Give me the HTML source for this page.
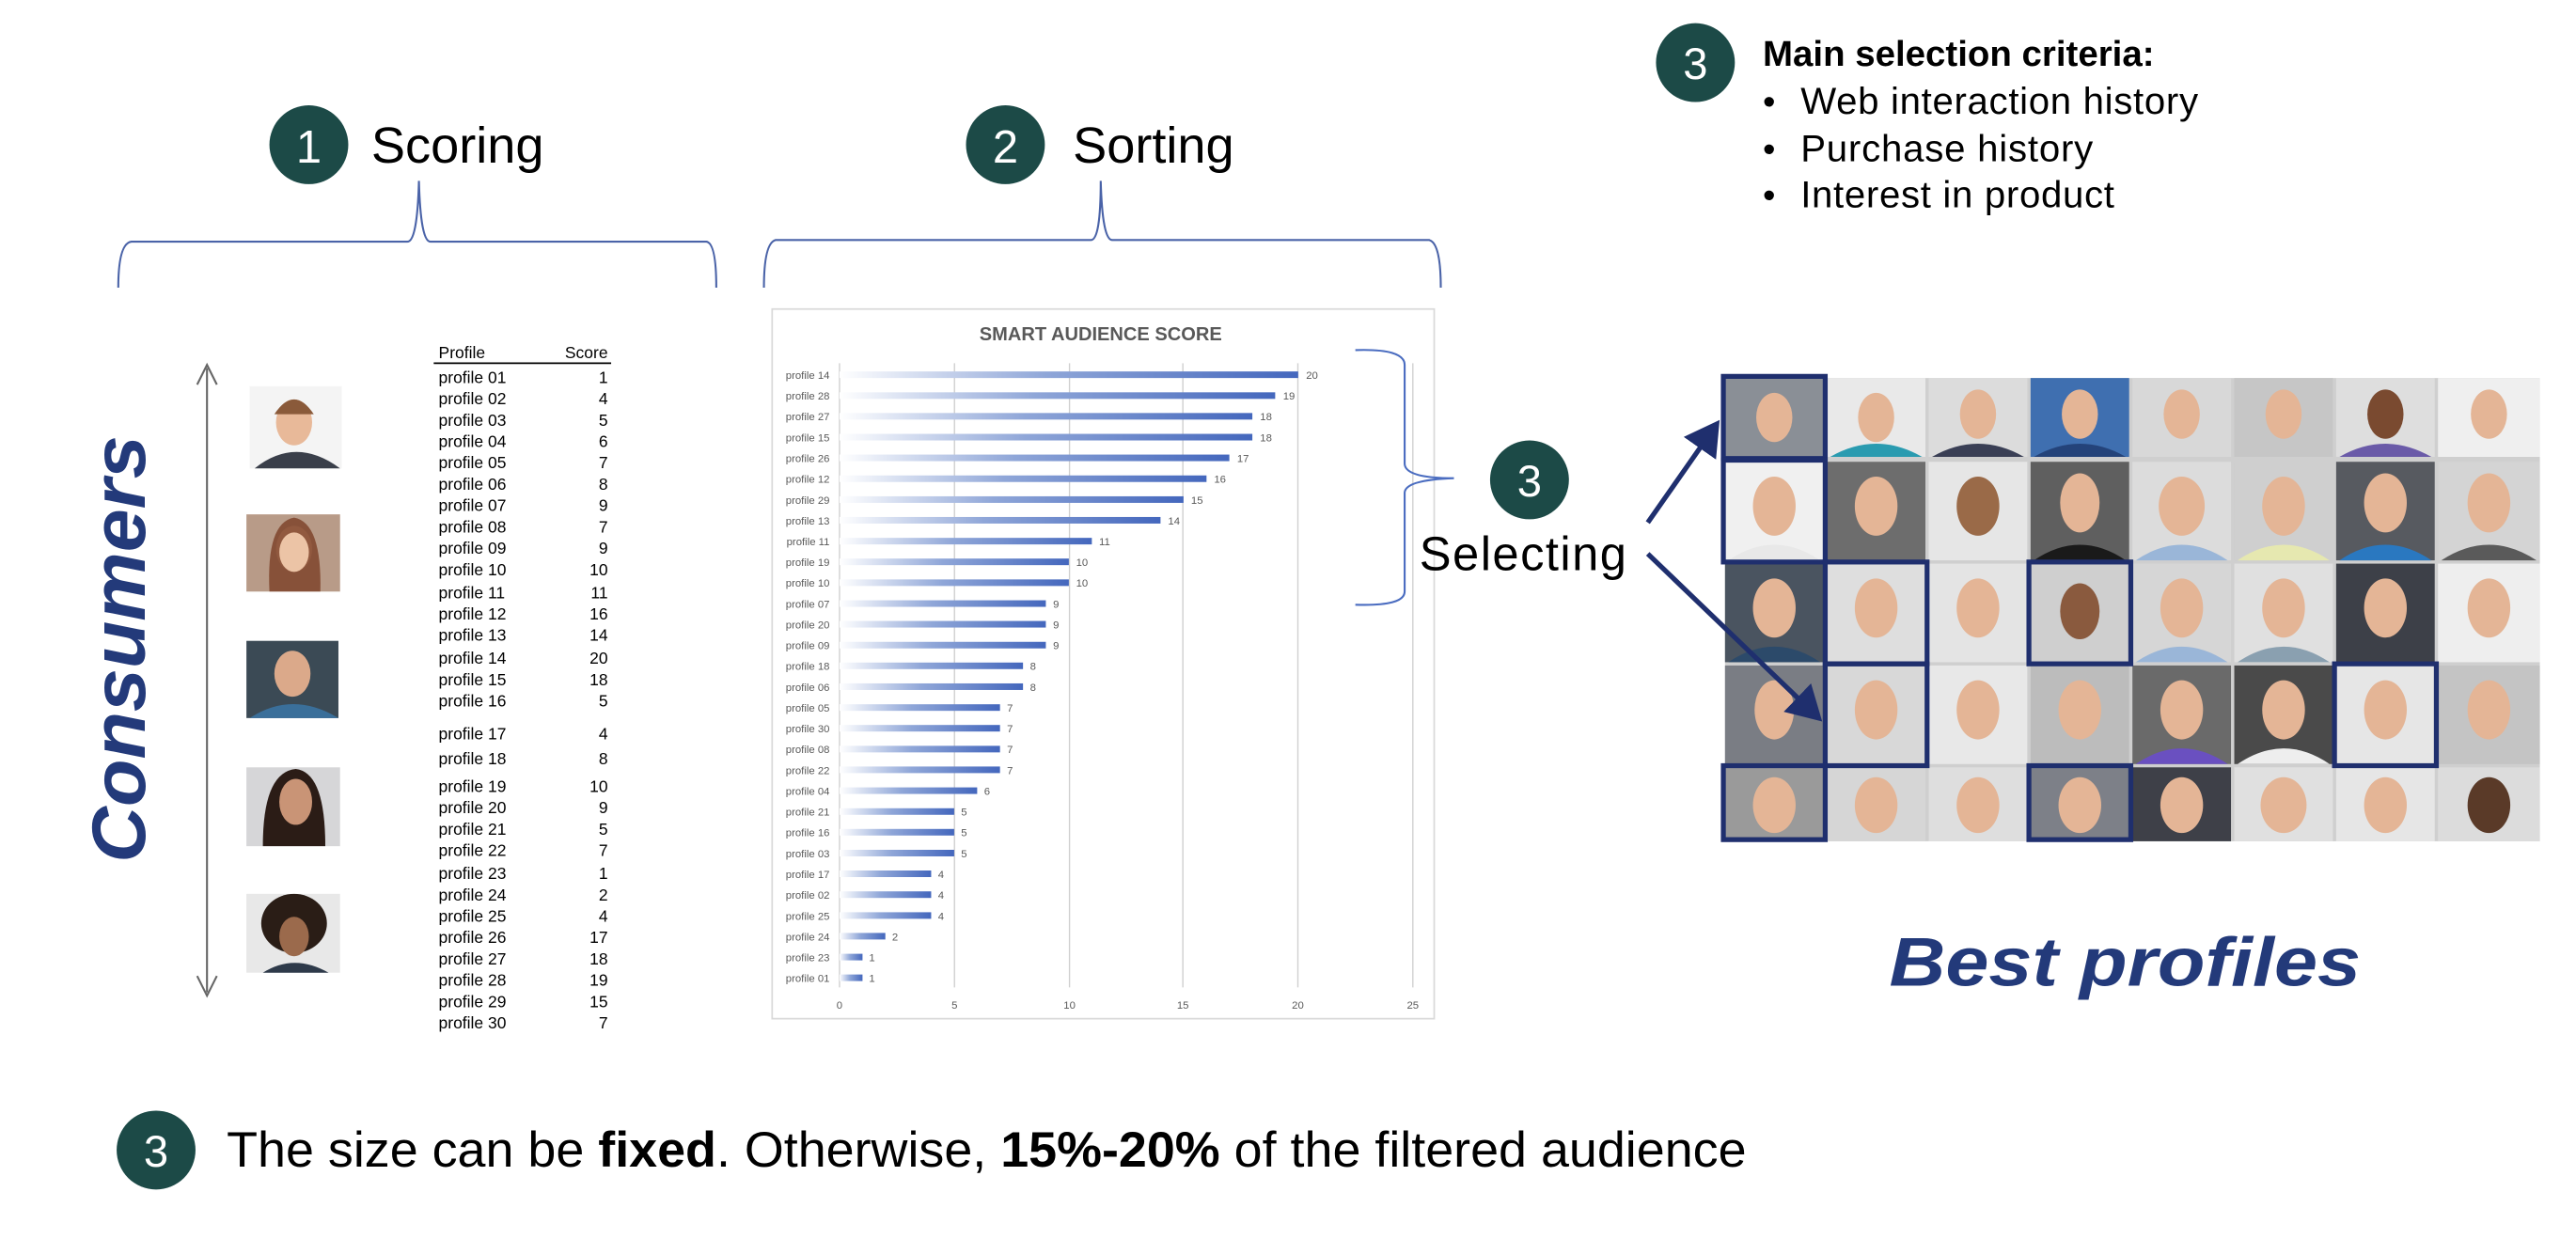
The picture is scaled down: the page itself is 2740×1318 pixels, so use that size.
<!DOCTYPE html>
<html><head><meta charset="utf-8"><style>
html,body{margin:0;padding:0;background:#fff;}
svg{display:block;font-family:"Liberation Sans",sans-serif;}
</style></head><body>
<svg width="2740" height="1318" viewBox="0 0 1568 754" xmlns="http://www.w3.org/2000/svg">
<defs>
<linearGradient id="bg" x1="0" x2="1" y1="0" y2="0"><stop offset="0" stop-color="#ffffff"/><stop offset="0.45" stop-color="#8fa6d8"/><stop offset="1" stop-color="#4467bd"/></linearGradient>
<marker id="ah" markerWidth="8" markerHeight="8" refX="6" refY="4" orient="auto"><path d="M0,0 L7,4 L0,8 Z" fill="#1f2f6e"/></marker>
</defs>
<rect width="1568" height="754" fill="#fff"/>

<circle cx="188" cy="88" r="24" fill="#1c4a47"/><text x="188" y="99" fill="#fff" font-size="28" text-anchor="middle">1</text>
<text x="226" y="99" font-size="31" fill="#000">Scoring</text>
<circle cx="612" cy="88" r="24" fill="#1c4a47"/><text x="612" y="99" fill="#fff" font-size="28" text-anchor="middle">2</text>
<text x="653" y="99" font-size="31" fill="#000">Sorting</text>
<circle cx="1032" cy="38" r="24" fill="#1c4a47"/><text x="1032" y="48" fill="#fff" font-size="27" text-anchor="middle">3</text>
<text x="1073" y="40" font-size="22" font-weight="bold" fill="#000">Main selection criteria:</text>
<text x="1073" y="69" font-size="22" fill="#000">•</text><text x="1096" y="69" font-size="23" fill="#000" textLength="242">Web interaction history</text>
<text x="1073" y="98" font-size="22" fill="#000">•</text><text x="1096" y="98" font-size="23" fill="#000" textLength="178">Purchase history</text>
<text x="1073" y="126" font-size="22" fill="#000">•</text><text x="1096" y="126" font-size="23" fill="#000" textLength="191">Interest in product</text>

<path d="M72,175 Q72,148 80,147 L248,147 Q254,147 255,110 Q256,147 262,147 L430,147 Q436,148 436,175" fill="none" stroke="#4a63a8" stroke-width="1.2"/>
<path d="M465,175 Q465,148 472,146 L664,146 Q670,146 670,110 Q671,146 677,146 L870,146 Q877,148 877,175" fill="none" stroke="#4a63a8" stroke-width="1.2"/>

<text transform="translate(88,395) rotate(-90)" font-size="46" font-weight="bold" font-style="italic" fill="#233a7a" text-anchor="middle" textLength="260" lengthAdjust="spacingAndGlyphs">Consumers</text>
<line x1="126" y1="224" x2="126" y2="604" stroke="#666" stroke-width="1.2"/>
<path d="M120,234 L126,222 L132,234 M120,594 L126,606 L132,594" fill="none" stroke="#666" stroke-width="1.2"/>

<g>
<rect x="152" y="235" width="56" height="50" fill="#f4f4f4"/><path d="M155,285 Q180,265 207,285Z" fill="#3a3f4a"/><ellipse cx="179" cy="257" rx="11" ry="14" fill="#e8b999"/><path d="M167,252 Q179,234 191,252 Z" fill="#8a5a3a"/>
<rect x="150" y="313" width="57" height="47" fill="#b89b88"/><ellipse cx="179" cy="334" rx="11" ry="14" fill="#e9c1a3"/><path d="M164,360 Q162,318 179,315 Q196,318 195,360Z" fill="#7a3f25" opacity="0.8"/><ellipse cx="179" cy="336" rx="9" ry="12" fill="#ecc4a6"/>
<rect x="150" y="390" width="56" height="47" fill="#3b4a55"/><path d="M152,437 Q178,420 206,437Z" fill="#3a6f9a"/><ellipse cx="178" cy="410" rx="11" ry="14" fill="#dba98a"/>
<rect x="150" y="467" width="57" height="48" fill="#d6d6d8"/><path d="M160,515 Q160,470 180,468 Q198,470 198,515Z" fill="#2b1c16"/><ellipse cx="180" cy="488" rx="10" ry="14" fill="#c99476"/>
<rect x="150" y="544" width="57" height="48" fill="#e8e8e8"/><ellipse cx="179" cy="562" rx="20" ry="18" fill="#2a1d16"/><ellipse cx="179" cy="570" rx="9" ry="12" fill="#9b6a4c"/><path d="M160,592 Q179,580 200,592Z" fill="#2e3a4a"/>
</g>

<g font-size="10" fill="#000">
<text x="267" y="218">Profile</text><text x="370" y="218" text-anchor="end">Score</text>
<line x1="264" y1="221" x2="372" y2="221" stroke="#000" stroke-width="1"/>
<text x="267" y="233">profile 01</text><text x="370" y="233" text-anchor="end">1</text>
<text x="267" y="246">profile 02</text><text x="370" y="246" text-anchor="end">4</text>
<text x="267" y="259">profile 03</text><text x="370" y="259" text-anchor="end">5</text>
<text x="267" y="272">profile 04</text><text x="370" y="272" text-anchor="end">6</text>
<text x="267" y="285">profile 05</text><text x="370" y="285" text-anchor="end">7</text>
<text x="267" y="298">profile 06</text><text x="370" y="298" text-anchor="end">8</text>
<text x="267" y="311">profile 07</text><text x="370" y="311" text-anchor="end">9</text>
<text x="267" y="324">profile 08</text><text x="370" y="324" text-anchor="end">7</text>
<text x="267" y="337">profile 09</text><text x="370" y="337" text-anchor="end">9</text>
<text x="267" y="350">profile 10</text><text x="370" y="350" text-anchor="end">10</text>
<text x="267" y="364">profile 11</text><text x="370" y="364" text-anchor="end">11</text>
<text x="267" y="377">profile 12</text><text x="370" y="377" text-anchor="end">16</text>
<text x="267" y="390">profile 13</text><text x="370" y="390" text-anchor="end">14</text>
<text x="267" y="404">profile 14</text><text x="370" y="404" text-anchor="end">20</text>
<text x="267" y="417">profile 15</text><text x="370" y="417" text-anchor="end">18</text>
<text x="267" y="430">profile 16</text><text x="370" y="430" text-anchor="end">5</text>
<text x="267" y="450">profile 17</text><text x="370" y="450" text-anchor="end">4</text>
<text x="267" y="465">profile 18</text><text x="370" y="465" text-anchor="end">8</text>
<text x="267" y="482">profile 19</text><text x="370" y="482" text-anchor="end">10</text>
<text x="267" y="495">profile 20</text><text x="370" y="495" text-anchor="end">9</text>
<text x="267" y="508">profile 21</text><text x="370" y="508" text-anchor="end">5</text>
<text x="267" y="521">profile 22</text><text x="370" y="521" text-anchor="end">7</text>
<text x="267" y="535">profile 23</text><text x="370" y="535" text-anchor="end">1</text>
<text x="267" y="548">profile 24</text><text x="370" y="548" text-anchor="end">2</text>
<text x="267" y="561">profile 25</text><text x="370" y="561" text-anchor="end">4</text>
<text x="267" y="574">profile 26</text><text x="370" y="574" text-anchor="end">17</text>
<text x="267" y="587">profile 27</text><text x="370" y="587" text-anchor="end">18</text>
<text x="267" y="600">profile 28</text><text x="370" y="600" text-anchor="end">19</text>
<text x="267" y="613">profile 29</text><text x="370" y="613" text-anchor="end">15</text>
<text x="267" y="626">profile 30</text><text x="370" y="626" text-anchor="end">7</text>
</g>

<rect x="470" y="188" width="403" height="432" fill="#fff" stroke="#d9d9d9" stroke-width="1"/>
<text x="670" y="207" font-size="11.5" font-weight="bold" fill="#595959" text-anchor="middle">SMART AUDIENCE SCORE</text>
<g stroke="#d0d0d0" stroke-width="0.8">
<line x1="511" y1="221" x2="511" y2="601"/><line x1="581" y1="221" x2="581" y2="601"/><line x1="651" y1="221" x2="651" y2="601"/><line x1="720" y1="221" x2="720" y2="601"/><line x1="790" y1="221" x2="790" y2="601"/><line x1="860" y1="221" x2="860" y2="601"/>
</g>
<g font-size="6.5" fill="#595959" text-anchor="middle">
<text x="511" y="614">0</text><text x="581" y="614">5</text><text x="651" y="614">10</text><text x="720" y="614">15</text><text x="790" y="614">20</text><text x="860" y="614">25</text>
</g>
<g fill="url(#bg)">
<rect x="511" y="226" width="279.2" height="4"/><rect x="511" y="238.7" width="265.2" height="4"/><rect x="511" y="251.3" width="251.3" height="4"/><rect x="511" y="264" width="251.3" height="4"/><rect x="511" y="276.6" width="237.3" height="4"/><rect x="511" y="289.3" width="223.4" height="4"/><rect x="511" y="302" width="209.4" height="4"/><rect x="511" y="314.6" width="195.4" height="4"/><rect x="511" y="327.3" width="153.6" height="4"/><rect x="511" y="339.9" width="139.6" height="4"/><rect x="511" y="352.6" width="139.6" height="4"/><rect x="511" y="365.3" width="125.6" height="4"/><rect x="511" y="377.9" width="125.6" height="4"/><rect x="511" y="390.6" width="125.6" height="4"/><rect x="511" y="403.2" width="111.7" height="4"/><rect x="511" y="415.9" width="111.7" height="4"/><rect x="511" y="428.6" width="97.7" height="4"/><rect x="511" y="441.2" width="97.7" height="4"/><rect x="511" y="453.9" width="97.7" height="4"/><rect x="511" y="466.5" width="97.7" height="4"/><rect x="511" y="479.2" width="83.8" height="4"/><rect x="511" y="491.9" width="69.8" height="4"/><rect x="511" y="504.5" width="69.8" height="4"/><rect x="511" y="517.2" width="69.8" height="4"/><rect x="511" y="529.8" width="55.8" height="4"/><rect x="511" y="542.5" width="55.8" height="4"/><rect x="511" y="555.2" width="55.8" height="4"/><rect x="511" y="567.8" width="27.9" height="4"/><rect x="511" y="580.5" width="14" height="4"/><rect x="511" y="593.1" width="14" height="4"/>
</g>
<g font-size="6.5" fill="#595959">
<g text-anchor="end">
<text x="505" y="230.5">profile 14</text><text x="505" y="243.2">profile 28</text><text x="505" y="255.8">profile 27</text><text x="505" y="268.5">profile 15</text><text x="505" y="281.1">profile 26</text><text x="505" y="293.8">profile 12</text><text x="505" y="306.5">profile 29</text><text x="505" y="319.1">profile 13</text><text x="505" y="331.8">profile 11</text><text x="505" y="344.4">profile 19</text><text x="505" y="357.1">profile 10</text><text x="505" y="369.8">profile 07</text><text x="505" y="382.4">profile 20</text><text x="505" y="395.1">profile 09</text><text x="505" y="407.7">profile 18</text><text x="505" y="420.4">profile 06</text><text x="505" y="433.1">profile 05</text><text x="505" y="445.7">profile 30</text><text x="505" y="458.4">profile 08</text><text x="505" y="471">profile 22</text><text x="505" y="483.7">profile 04</text><text x="505" y="496.4">profile 21</text><text x="505" y="509">profile 16</text><text x="505" y="521.7">profile 03</text><text x="505" y="534.3">profile 17</text><text x="505" y="547">profile 02</text><text x="505" y="559.7">profile 25</text><text x="505" y="572.3">profile 24</text><text x="505" y="585">profile 23</text><text x="505" y="597.6">profile 01</text>
</g>
<text x="795" y="230.5">20</text><text x="781" y="243.2">19</text><text x="767" y="255.8">18</text><text x="767" y="268.5">18</text><text x="753" y="281.1">17</text><text x="739" y="293.8">16</text><text x="725" y="306.5">15</text><text x="711" y="319.1">14</text><text x="669" y="331.8">11</text><text x="655" y="344.4">10</text><text x="655" y="357.1">10</text><text x="641" y="369.8">9</text><text x="641" y="382.4">9</text><text x="641" y="395.1">9</text><text x="627" y="407.7">8</text><text x="627" y="420.4">8</text><text x="613" y="433.1">7</text><text x="613" y="445.7">7</text><text x="613" y="458.4">7</text><text x="613" y="471">7</text><text x="599" y="483.7">6</text><text x="585" y="496.4">5</text><text x="585" y="509">5</text><text x="585" y="521.7">5</text><text x="571" y="534.3">4</text><text x="571" y="547">4</text><text x="571" y="559.7">4</text><text x="543" y="572.3">2</text><text x="529" y="585">1</text><text x="529" y="597.6">1</text>
</g>

<path d="M825,213 Q855,212 855,222 L855,282 Q855,291 885,291 Q855,292 855,300 L855,360 Q855,369 825,368" fill="none" stroke="#4a6cc0" stroke-width="1.2"/>
<circle cx="931" cy="292" r="24" fill="#1c4a47"/><text x="931" y="302" fill="#fff" font-size="27" text-anchor="middle">3</text>
<text x="864" y="347" font-size="29" fill="#000" textLength="126">Selecting</text>

<g>
<rect x="1050" y="230" width="496" height="282" fill="#cfcfcf"/>
<g>
<rect x="1050" y="230" width="60" height="48" fill="#8a8f96"/><rect x="1112" y="230" width="60" height="48" fill="#e9e9e9"/><rect x="1174" y="230" width="60" height="48" fill="#dcdcdc"/><rect x="1236" y="230" width="60" height="48" fill="#3f6fb0"/><rect x="1298" y="230" width="60" height="48" fill="#d8d8d8"/><rect x="1360" y="230" width="60" height="48" fill="#c6c6c6"/><rect x="1422" y="230" width="60" height="48" fill="#dedede"/><rect x="1484" y="230" width="62" height="48" fill="#efefef"/>
<rect x="1050" y="281" width="60" height="60" fill="#f0f0f0"/><rect x="1112" y="281" width="60" height="60" fill="#6d6d6d"/><rect x="1174" y="281" width="60" height="60" fill="#e6e6e6"/><rect x="1236" y="281" width="60" height="60" fill="#5f5f5f"/><rect x="1298" y="281" width="60" height="60" fill="#dcdcdc"/><rect x="1360" y="281" width="60" height="60" fill="#cfcfcf"/><rect x="1422" y="281" width="60" height="60" fill="#575a60"/><rect x="1484" y="281" width="62" height="60" fill="#d4d4d4"/>
<rect x="1050" y="343" width="60" height="60" fill="#4a5460"/><rect x="1112" y="343" width="60" height="60" fill="#dedede"/><rect x="1174" y="343" width="60" height="60" fill="#e4e4e4"/><rect x="1236" y="343" width="60" height="60" fill="#cfcfcf"/><rect x="1298" y="343" width="60" height="60" fill="#d6d6d6"/><rect x="1360" y="343" width="60" height="60" fill="#e0e0e0"/><rect x="1422" y="343" width="60" height="60" fill="#3d4048"/><rect x="1484" y="343" width="62" height="60" fill="#eeeeee"/>
<rect x="1050" y="405" width="60" height="60" fill="#7a7d84"/><rect x="1112" y="405" width="60" height="60" fill="#d8d8d8"/><rect x="1174" y="405" width="60" height="60" fill="#e8e8e8"/><rect x="1236" y="405" width="60" height="60" fill="#bcbcbc"/><rect x="1298" y="405" width="60" height="60" fill="#6a6a6a"/><rect x="1360" y="405" width="60" height="60" fill="#4a4a4a"/><rect x="1422" y="405" width="60" height="60" fill="#e6e6e6"/><rect x="1484" y="405" width="62" height="60" fill="#c4c4c4"/>
<rect x="1050" y="467" width="60" height="45" fill="#9a9a9a"/><rect x="1112" y="467" width="60" height="45" fill="#d6d6d6"/><rect x="1174" y="467" width="60" height="45" fill="#dedede"/><rect x="1236" y="467" width="60" height="45" fill="#7d8088"/><rect x="1298" y="467" width="60" height="45" fill="#3e4048"/><rect x="1360" y="467" width="60" height="45" fill="#e0e0e0"/><rect x="1422" y="467" width="60" height="45" fill="#e6e6e6"/><rect x="1484" y="467" width="62" height="45" fill="#dcdcdc"/>
</g>
<g>
<g fill="#e4b596">
<ellipse cx="1080" cy="254" rx="11" ry="15"/><ellipse cx="1142" cy="254" rx="11" ry="15"/><ellipse cx="1204" cy="252" rx="11" ry="15"/><ellipse cx="1266" cy="252" rx="11" ry="15"/><ellipse cx="1328" cy="252" rx="11" ry="15"/><ellipse cx="1390" cy="252" rx="11" ry="15"/><ellipse cx="1452" cy="252" rx="11" ry="15" fill="#7a4a30"/><ellipse cx="1515" cy="252" rx="11" ry="15"/>
<ellipse cx="1080" cy="308" rx="13" ry="18"/><ellipse cx="1142" cy="308" rx="13" ry="18"/><ellipse cx="1204" cy="308" rx="13" ry="18" fill="#9a6a48"/><ellipse cx="1266" cy="306" rx="12" ry="18"/><ellipse cx="1328" cy="308" rx="14" ry="18"/><ellipse cx="1390" cy="308" rx="13" ry="18"/><ellipse cx="1452" cy="306" rx="13" ry="18"/><ellipse cx="1515" cy="306" rx="13" ry="18"/>
<ellipse cx="1080" cy="370" rx="13" ry="18"/><ellipse cx="1142" cy="370" rx="13" ry="18"/><ellipse cx="1204" cy="370" rx="13" ry="18"/><ellipse cx="1266" cy="372" rx="12" ry="17" fill="#8a5a3e"/><ellipse cx="1328" cy="370" rx="13" ry="18"/><ellipse cx="1390" cy="370" rx="13" ry="18"/><ellipse cx="1452" cy="370" rx="13" ry="18"/><ellipse cx="1515" cy="370" rx="13" ry="18"/>
<ellipse cx="1080" cy="432" rx="12" ry="18"/><ellipse cx="1142" cy="432" rx="13" ry="18"/><ellipse cx="1204" cy="432" rx="13" ry="18"/><ellipse cx="1266" cy="432" rx="13" ry="18"/><ellipse cx="1328" cy="432" rx="13" ry="18"/><ellipse cx="1390" cy="432" rx="13" ry="18"/><ellipse cx="1452" cy="432" rx="13" ry="18"/><ellipse cx="1515" cy="432" rx="13" ry="18"/>
<ellipse cx="1080" cy="490" rx="13" ry="17"/><ellipse cx="1142" cy="490" rx="13" ry="17"/><ellipse cx="1204" cy="490" rx="13" ry="17"/><ellipse cx="1266" cy="490" rx="13" ry="17"/><ellipse cx="1328" cy="490" rx="13" ry="17"/><ellipse cx="1390" cy="490" rx="14" ry="17"/><ellipse cx="1452" cy="490" rx="13" ry="17"/><ellipse cx="1515" cy="490" rx="13" ry="17" fill="#5a3a28"/>
</g>
<g fill="#3a3f55">
<path d="M1114,278 Q1142,262 1170,278Z" fill="#2a9bb0"/><path d="M1176,278 Q1204,262 1232,278Z"/><path d="M1238,278 Q1266,262 1294,278Z" fill="#24437a"/><path d="M1424,278 Q1452,262 1480,278Z" fill="#6a5aa8"/>
<path d="M1052,341 Q1080,322 1108,341Z" fill="#e8e8e8"/><path d="M1238,341 Q1266,322 1294,341Z" fill="#1a1a1a"/><path d="M1300,341 Q1328,322 1356,341Z" fill="#9ab6d8"/><path d="M1362,341 Q1390,322 1418,341Z" fill="#e6e8b0"/><path d="M1424,341 Q1452,322 1480,341Z" fill="#2a78c0"/><path d="M1486,341 Q1515,322 1544,341Z" fill="#5a5a5a"/>
<path d="M1052,403 Q1080,384 1108,403Z" fill="#2c4a6a"/><path d="M1300,403 Q1328,384 1356,403Z" fill="#9ab6d8"/><path d="M1362,403 Q1390,384 1418,403Z" fill="#8aa0b0"/>
<path d="M1300,465 Q1328,446 1356,465Z" fill="#6a50c0"/><path d="M1362,465 Q1390,446 1418,465Z" fill="#eeeeee"/>
</g>
</g>
<g fill="none" stroke="#1f2f6e" stroke-width="3">
<rect x="1049" y="229" width="62" height="50"/><rect x="1049" y="280" width="62" height="62"/><rect x="1111" y="342" width="62" height="62"/><rect x="1235" y="342" width="62" height="62"/><rect x="1111" y="404" width="62" height="62"/><rect x="1421" y="404" width="62" height="62"/><rect x="1049" y="466" width="62" height="45"/><rect x="1235" y="466" width="62" height="45"/>
</g>
</g>
<line x1="1003" y1="318" x2="1045" y2="258" stroke="#1f2f6e" stroke-width="3" marker-end="url(#ah)"/>
<line x1="1003" y1="337" x2="1107" y2="437" stroke="#1f2f6e" stroke-width="3" marker-end="url(#ah)"/>

<text x="1150" y="600" font-size="42" font-weight="bold" font-style="italic" fill="#233a7a" textLength="287" lengthAdjust="spacingAndGlyphs">Best profiles</text>

<circle cx="95" cy="700" r="24" fill="#1c4a47"/><text x="95" y="710" fill="#fff" font-size="27" text-anchor="middle">3</text>
<text x="138" y="710" font-size="30" fill="#000" textLength="925" lengthAdjust="spacingAndGlyphs">The size can be <tspan font-weight="bold">fixed</tspan>. Otherwise, <tspan font-weight="bold">15%-20%</tspan> of the filtered audience</text>
</svg>
</body></html>
